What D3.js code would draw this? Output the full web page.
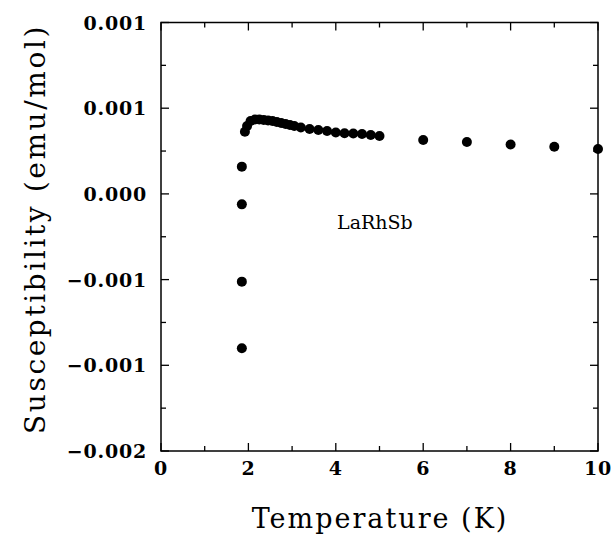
<!DOCTYPE html>
<html>
<head>
<meta charset="utf-8">
<script src="https://cdn.jsdelivr.net/npm/d3@7"></script>
<style>
  body { margin: 0; background: #fff; }
  text { font-family: "DejaVu Serif", serif; fill: #000; }
  .tick-label { font-size: 19px; font-weight: bold; letter-spacing: 0.8px; }
  .axis-title { font-size: 27px; letter-spacing: 2px; }
</style>
</head>
<body>
<div id="chart"></div>
<script>
// temperature (K) and susceptibility (emu/mol)
const temps = [1.85, 1.85, 1.85, 1.85, 1.92, 1.97, 2.05, 2.15, 2.25, 2.35, 2.45, 2.55, 2.65,
  2.75, 2.85, 2.95, 3.05, 3.2, 3.4, 3.6, 3.8, 4.0, 4.2, 4.4, 4.6, 4.8, 5.0, 6, 7, 8, 9, 10];
const chi = [-0.000901, -0.000512, -0.000061, 0.000159, 0.000363, 0.000396, 0.000425, 0.000434,
  0.000434, 0.000431, 0.000428, 0.000425, 0.000419, 0.000414, 0.000408, 0.000402, 0.000396,
  0.000387, 0.000379, 0.000373, 0.000367, 0.000358, 0.000354, 0.000352, 0.000349, 0.000344,
  0.000338, 0.000314, 0.000303, 0.000288, 0.000275, 0.000262];

const xTicks = [0, 2, 4, 6, 8, 10];
const xMinor = [1, 3, 5, 7, 9];
const yTicks = [-0.0015, -0.001, -0.0005, 0, 0.0005, 0.001];
const yTickLabels = ["-0.002", "-0.001", "-0.001", "0.000", "0.001", "0.001"];
const yMinor = [-0.00125, -0.00075, -0.00025, 0.00025, 0.00075];

const W = 613, H = 536;
const margin = {top: 22.5, right: 15, bottom: 85, left: 161};
const width = W - margin.left - margin.right;
const height = H - margin.top - margin.bottom;

const svg = d3.select("#chart").append("svg")
    .attr("width", W)
    .attr("height", H);
const g = svg.append("g")
    .attr("transform", "translate(" + margin.left + "," + margin.top + ")");

const x = d3.scaleLinear().domain([0, 10]).range([0, width]);
const y = d3.scaleLinear().domain([-0.0015, 0.001]).range([height, 0]);

// frame
g.append("rect")
    .attr("width", width).attr("height", height)
    .attr("fill", "none").attr("stroke", "#000").attr("stroke-width", 1.5);

// ticks on all four sides, pointing inwards
function ticks(vals, len) {
  vals.forEach((v) => {
    g.append("line").attr("x1", x(v)).attr("x2", x(v)).attr("y1", height).attr("y2", height - len);
    g.append("line").attr("x1", x(v)).attr("x2", x(v)).attr("y1", 0).attr("y2", len);
  });
}
function yticks(vals, len) {
  vals.forEach((v) => {
    g.append("line").attr("y1", y(v)).attr("y2", y(v)).attr("x1", 0).attr("x2", len);
    g.append("line").attr("y1", y(v)).attr("y2", y(v)).attr("x1", width).attr("x2", width - len);
  });
}
ticks(xTicks, 8);
ticks(xMinor, 5);
yticks(yTicks, 8);
yticks(yMinor, 5);
g.selectAll("line").attr("stroke", "#000").attr("stroke-width", 1.3);

// tick labels
g.selectAll(".xl")
    .data(xTicks)
    .enter().append("text")
    .attr("class", "tick-label")
    .attr("x", (d) => x(d))
    .attr("y", height + 24)
    .attr("text-anchor", "middle")
    .text((d) => d);

g.selectAll(".yl")
    .data(yTicks)
    .enter().append("text")
    .attr("class", "tick-label")
    .attr("x", -14)
    .attr("y", (d) => y(d) + 7)
    .attr("text-anchor", "end")
    .text((d, i) => yTickLabels[i].replace("-", "\u2212"));

// axis titles
svg.append("text")
    .attr("class", "axis-title")
    .attr("x", 380).attr("y", 528)
    .attr("text-anchor", "middle")
    .text("Temperature (K)");

svg.append("text")
    .attr("class", "axis-title")
    .attr("transform", "translate(45,229) rotate(-90)")
    .attr("text-anchor", "middle")
    .style("font-size", "28px")
    .style("letter-spacing", "2.6px")
    .text("Susceptibility (emu/mol)");

// sample label
g.append("text")
    .attr("x", x(4.03)).attr("y", y(-0.000205))
    .style("font-size", "19px")
    .text("LaRhSb");

// data points
g.selectAll(".pt")
    .data(temps)
    .enter().append("circle")
    .attr("class", "pt")
    .attr("cx", (d) => x(d))
    .attr("cy", (d, i) => y(chi[i]))
    .attr("r", 5)
    .attr("fill", "#000");
</script>
</body>
</html>
